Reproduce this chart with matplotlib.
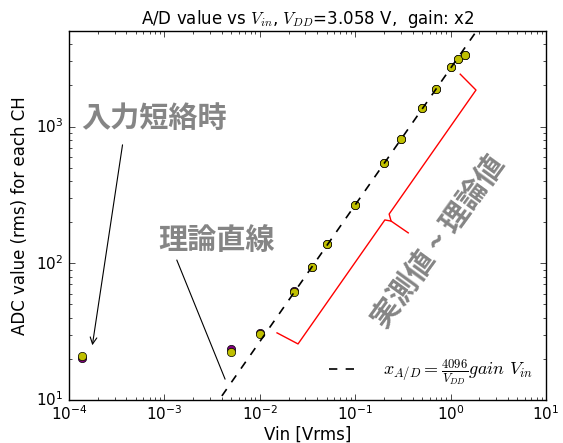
import numpy as np
import matplotlib
matplotlib.use("Agg")
import matplotlib.pyplot as plt

# ---- data ----
VDD = 3.058
GAIN = 2
vin = [1.36e-4, 0.005, 0.01, 0.023, 0.035, 0.05, 0.1, 0.2, 0.3, 0.5, 0.7, 1.0, 1.2, 1.4]
adc_ch0 = [21.0, 22.6, 30.4, 61.7, 93.5, 137.7, 267, 539, 814, 1368, 1893, 2716, 3120, 3358]
adc_ch1 = [20.3, 23.6, 30.9, 62.3, 94.5, 138.5, 268, 541, 816, 1370, 1895, 2720, 3125, 3362]
vin_theory = [0.004, 2.0]

# 理論直線
adc_theory = [4096.0 / VDD * GAIN * v for v in vin_theory]

plt.style.use("classic")
plt.rcParams["figure.facecolor"] = "white"
plt.rcParams["savefig.facecolor"] = "white"
plt.rcParams["xtick.labelsize"] = 11
plt.rcParams["ytick.labelsize"] = 11
plt.rcParams["xtick.major.pad"] = 3
plt.rcParams["ytick.major.pad"] = 4

fig = plt.figure(figsize=(5.63, 4.43), dpi=100)
ax = fig.add_axes([0.1226, 0.097, 0.8474, 0.833])

ax.plot(vin, adc_ch1, "o", color="purple", mec="k", ms=6)
ax.plot(vin, adc_ch0, "o", color="y", mec="k", ms=6)
ax.plot(vin_theory, adc_theory, "k--", lw=1.2,
        label=r"$x_{A/D}=\frac{4096}{V_{DD}}gain\ V_{in}$")

ax.set_xscale("log")
ax.set_yscale("log")
ax.set_xlim(1e-4, 10)
ax.set_ylim(10, 5000)
ax.set_xlabel("Vin [Vrms]", labelpad=2)
ax.set_ylabel("ADC value (rms) for each CH")
ax.set_title(r"A/D value vs $V_{in}$, $V_{DD}$=3.058 V,  gain: x2", fontsize=12)
ax.legend(loc="lower right", frameon=False, fontsize=13, handlelength=2.3,
          borderaxespad=0.3, handletextpad=1.0)

jp = ["Noto Sans CJK JP", "DejaVu Sans"]
gray = "#858585"

ax.text(0.178, 0.764, "入力短絡時", transform=ax.transAxes, family=jp,
        fontsize=21, fontweight="bold", color=gray, ha="center", va="center")
ax.annotate("", xy=(0.048, 0.141), xytext=(0.113, 0.699),
            xycoords="axes fraction", textcoords="axes fraction",
            arrowprops=dict(arrowstyle="->", color="k", lw=0.8))

ax.text(0.310, 0.434, "理論直線", transform=ax.transAxes, family=jp,
        fontsize=21, fontweight="bold", color=gray, ha="center", va="center")
ax.plot([0.226, 0.327], [0.379, 0.057], color="k", lw=0.8, transform=ax.transAxes)

# 中括弧
ax.plot([0.436, 0.480, 0.662, 0.675, 0.711], [0.182, 0.152, 0.488, 0.485, 0.453],
        color="r", lw=1, transform=ax.transAxes)
ax.plot([0.675, 0.671, 0.853, 0.820], [0.485, 0.504, 0.840, 0.883],
        color="r", lw=1, transform=ax.transAxes)

ax.text(0.774, 0.428, "実測値 ~ 理論値", transform=ax.transAxes, family=jp,
        fontsize=21, fontweight="bold", color=gray, ha="center", va="center",
        rotation=54, rotation_mode="anchor")

fig.savefig("out.png", dpi=100)
